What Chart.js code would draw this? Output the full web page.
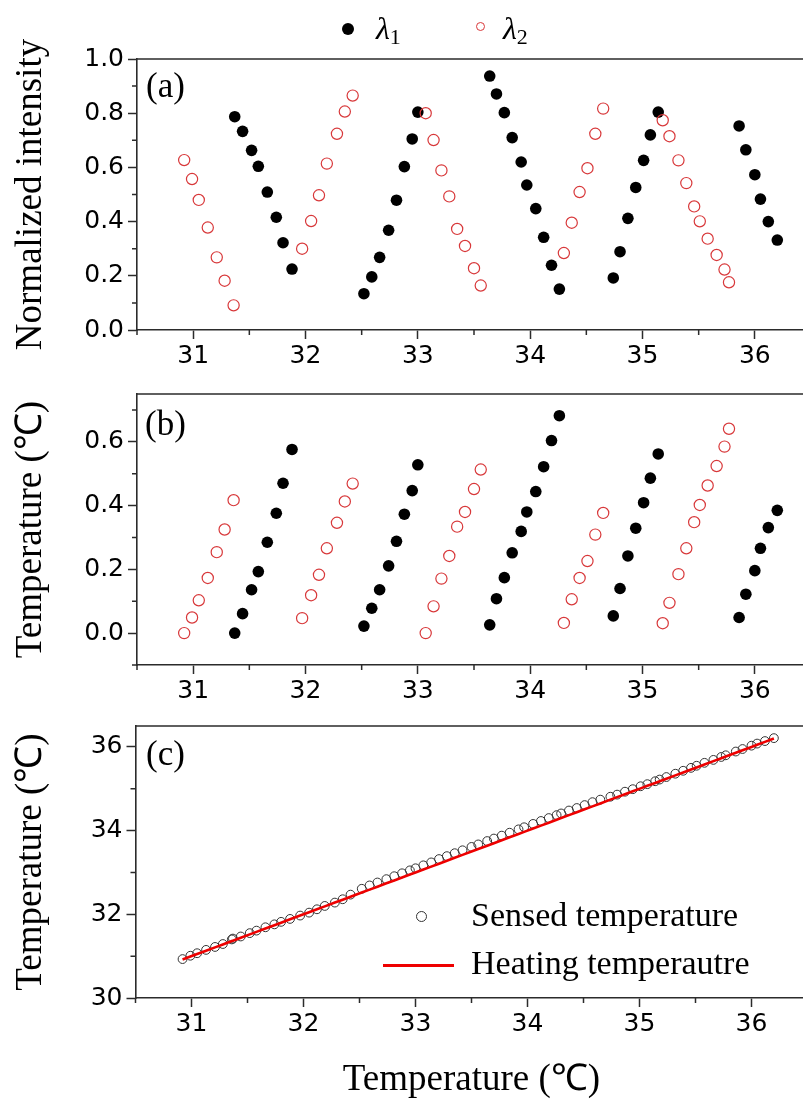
<!DOCTYPE html>
<html>
<head>
<meta charset="utf-8">
<script src="https://cdn.jsdelivr.net/npm/chart.js@4.4.1/dist/chart.umd.min.js"></script>
<style>
  html, body { margin: 0; padding: 0; background: #fff; }
  #figure { position: relative; width: 803px; height: 1105px; overflow: hidden; background: #fff; }
  .panel { position: absolute; left: 0; }
  .panel canvas { display: block; }
  .txt { position: absolute; font-family: 'Liberation Serif', 'Times New Roman', serif; color: #000; line-height: 1; white-space: nowrap; }
  .dot { position: absolute; border-radius: 50%; box-sizing: border-box; }
</style>
</head>
<body>
<div id="figure">
  <div class="panel" style="top:0px"><canvas id="chartA" width="830" height="390"></canvas></div>
  <div class="panel" style="top:360px"><canvas id="chartB" width="830" height="360"></canvas></div>
  <div class="panel" style="top:690px"><canvas id="chartC" width="830" height="415"></canvas></div>

  <!-- wavelength key above panel (a) -->
  <div class="dot" style="left:342px;top:23px;width:12px;height:12px;background:#000"></div>
  <div class="txt" style="left:376px;top:12px;font-size:32px"><i>λ</i><span style="font-size:22px;position:relative;top:5px">1</span></div>
  <div class="dot" style="left:475.5px;top:22px;width:9px;height:9px;border:1px solid #d8383a"></div>
  <div class="txt" style="left:503px;top:12px;font-size:32px"><i>λ</i><span style="font-size:22px;position:relative;top:5px">2</span></div>

  <!-- panel letters -->
  <div class="txt" style="left:146px;top:68px;font-size:35px">(a)</div>
  <div class="txt" style="left:145px;top:406px;font-size:35px">(b)</div>
  <div class="txt" style="left:146px;top:736px;font-size:35px">(c)</div>

  <!-- key inside panel (c) -->
  <div class="dot" style="left:416px;top:910.5px;width:11px;height:11px;border:1px solid #333"></div>
  <div class="txt" style="left:471px;top:898px;font-size:34px">Sensed temperature</div>
  <div style="position:absolute;left:383px;top:963.5px;width:71px;height:3px;background:#ee0000"></div>
  <div class="txt" style="left:471px;top:946px;font-size:34px">Heating temperautre</div>
</div>

<script>
// ---- λ2 (red, hollow): heating temperature (℃), normalized intensity, temperature shift (℃)
const tempL2 = [30.92, 30.99, 31.05, 31.13, 31.21, 31.28, 31.36,
                31.97, 32.05, 32.12, 32.19, 32.28, 32.35, 32.42,
                33.07, 33.14, 33.21, 33.28, 33.35, 33.42, 33.50, 33.56,
                34.30, 34.37, 34.44, 34.51, 34.58, 34.65,
                35.18, 35.24, 35.32, 35.39, 35.46, 35.51, 35.58, 35.66, 35.73, 35.77];
const intensityL2 = [0.627, 0.557, 0.480, 0.378, 0.268, 0.182, 0.091,
                     0.300, 0.402, 0.497, 0.614, 0.724, 0.806, 0.865,
                     0.800, 0.701, 0.589, 0.493, 0.373, 0.310, 0.228, 0.164,
                     0.284, 0.396, 0.509, 0.597, 0.724, 0.817,
                     0.774, 0.715, 0.626, 0.542, 0.456, 0.401, 0.337, 0.277, 0.223, 0.176];
const shiftL2 = [0.000, 0.049, 0.103, 0.173, 0.254, 0.325, 0.417,
                 0.047, 0.119, 0.183, 0.266, 0.346, 0.413, 0.469,
                 0.000, 0.084, 0.171, 0.242, 0.334, 0.380, 0.452, 0.513,
                 0.032, 0.106, 0.173, 0.226, 0.309, 0.377,
                 0.031, 0.095, 0.185, 0.266, 0.348, 0.402, 0.463, 0.524, 0.585, 0.641];

// ---- λ1 (black, filled)
const tempL1 = [31.37, 31.44, 31.52, 31.58, 31.66, 31.74, 31.80, 31.88,
                32.52, 32.59, 32.66, 32.74, 32.81, 32.88, 32.95, 33.00,
                33.64, 33.70, 33.77, 33.84, 33.92, 33.97, 34.05, 34.12, 34.19, 34.26,
                34.74, 34.80, 34.87, 34.94, 35.01, 35.07, 35.14,
                35.86, 35.92, 36.00, 36.05, 36.12, 36.20];
const intensityL1 = [0.787, 0.733, 0.663, 0.604, 0.509, 0.416, 0.322, 0.225,
                     0.134, 0.196, 0.268, 0.368, 0.479, 0.603, 0.705, 0.804,
                     0.937, 0.871, 0.802, 0.710, 0.620, 0.535, 0.448, 0.342, 0.239, 0.151,
                     0.192, 0.289, 0.412, 0.526, 0.626, 0.720, 0.804,
                     0.753, 0.665, 0.573, 0.483, 0.400, 0.332];
const shiftL1 = [0.000, 0.061, 0.136, 0.193, 0.285, 0.376, 0.470, 0.576,
                 0.022, 0.078, 0.136, 0.211, 0.288, 0.373, 0.447, 0.528,
                 0.026, 0.108, 0.174, 0.252, 0.319, 0.380, 0.444, 0.522, 0.604, 0.682,
                 0.054, 0.140, 0.242, 0.329, 0.409, 0.486, 0.562,
                 0.049, 0.122, 0.196, 0.266, 0.331, 0.385];

// ---- panel (c): applied heating temperature vs. sensed temperature (℃)
const heatingTemp = [30.92, 30.99, 31.05, 31.13, 31.21, 31.28, 31.36, 31.37, 31.44, 31.52,
                     31.58, 31.66, 31.74, 31.80, 31.88, 31.97, 32.05, 32.12, 32.19, 32.28,
                     32.35, 32.42, 32.52, 32.59, 32.66, 32.74, 32.81, 32.88, 32.95, 33.00,
                     33.07, 33.14, 33.21, 33.28, 33.35, 33.42, 33.50, 33.56, 33.64, 33.70,
                     33.77, 33.84, 33.92, 33.97, 34.05, 34.12, 34.19, 34.26, 34.30, 34.37,
                     34.44, 34.51, 34.58, 34.65, 34.74, 34.80, 34.87, 34.94, 35.01, 35.07,
                     35.14, 35.18, 35.24, 35.32, 35.39, 35.46, 35.51, 35.58, 35.66, 35.73,
                     35.77, 35.86, 35.92, 36.00, 36.05, 36.12, 36.20];
const sensedTemp = [30.93, 31.01, 31.07, 31.15, 31.22, 31.29, 31.40, 31.42, 31.47, 31.55,
                    31.61, 31.69, 31.76, 31.82, 31.89, 31.97, 32.04, 32.12, 32.20, 32.28,
                    32.36, 32.47, 32.61, 32.69, 32.76, 32.84, 32.91, 32.98, 33.05, 33.10,
                    33.17, 33.24, 33.32, 33.39, 33.46, 33.53, 33.61, 33.67, 33.75, 33.81,
                    33.88, 33.95, 34.03, 34.08, 34.16, 34.23, 34.30, 34.37, 34.41, 34.48,
                    34.54, 34.61, 34.68, 34.74, 34.81, 34.86, 34.93, 34.99, 35.06, 35.11,
                    35.18, 35.22, 35.28, 35.36, 35.43, 35.50, 35.55, 35.62, 35.69, 35.76,
                    35.80, 35.89, 35.95, 36.03, 36.08, 36.14, 36.21];

// ---- tick positions
const xTicks = [31, 32, 33, 34, 35, 36];
const xMinor = [30.5, 31.5, 32.5, 33.5, 34.5, 35.5];
const yTicksA = [0, 0.2, 0.4, 0.6, 0.8, 1.0];
const yMinorA = [0.1, 0.3, 0.5, 0.7, 0.9];
const yTicksB = [0, 0.2, 0.4, 0.6];
const yMinorB = [-0.1, 0.1, 0.3, 0.5, 0.7];
const yTicksC = [30, 32, 34, 36];
const yMinorC = [31, 33, 35];

const SANS = "'DejaVu Sans', sans-serif";
const SERIF = "'Liberation Serif', 'Times New Roman', serif";
const AXIS = '#2b2b2b';
const RED = '#d8383a';

const pairs = (xs, ys) => xs.map((x, i) => ({ x, y: ys[i] }));

// short minor ticks plus the top/right frame of the plot box
const frameAndMinor = {
  id: 'frameAndMinor',
  afterDraw(chart, args, opts) {
    const { ctx, chartArea: a } = chart;
    const xs = chart.scales.x, ys = chart.scales.y;
    ctx.save();
    ctx.strokeStyle = AXIS;
    ctx.lineWidth = 1.5;
    ctx.beginPath();
    (opts.x || []).forEach(v => { const p = xs.getPixelForValue(v); ctx.moveTo(p, a.bottom); ctx.lineTo(p, a.bottom + 5); });
    (opts.y || []).forEach(v => { const p = ys.getPixelForValue(v); ctx.moveTo(a.left, p); ctx.lineTo(a.left - 5, p); });
    ctx.stroke();
    ctx.lineWidth = 1.6;
    ctx.beginPath();
    ctx.moveTo(a.left, a.top); ctx.lineTo(a.right, a.top); ctx.lineTo(a.right, a.bottom);
    ctx.stroke();
    ctx.restore();
  }
};

function makeOptions(p) {
  return {
    responsive: false,
    animation: false,
    devicePixelRatio: 1,
    events: [],
    layout: { padding: { top: p.padTop, right: p.padRight, bottom: 0, left: 0 } },
    plugins: {
      legend: { display: false },
      tooltip: { enabled: false },
      frameAndMinor: { x: xMinor, y: p.yMinor }
    },
    scales: {
      x: {
        type: 'linear', min: 30.5, max: 36.5,
        afterBuildTicks: s => { s.ticks = xTicks.map(v => ({ value: v })); },
        afterFit: s => { s.height = p.xHeight; },
        ticks: { color: '#000', font: { family: SANS, size: 25 }, padding: 2, maxRotation: 0, autoSkip: false,
                 callback: v => String(v) },
        grid: { drawOnChartArea: false, drawTicks: true, tickLength: 9, tickWidth: 1.5, tickColor: AXIS, color: AXIS },
        border: { display: true, color: AXIS, width: 1.6 },
        title: p.xTitle ? { display: true, text: 'Temperature (℃)', color: '#000',
                            font: { family: SERIF, size: 37 }, padding: { top: 0, bottom: 3 } } : { display: false }
      },
      y: {
        type: 'linear', min: p.yMin, max: p.yMax,
        afterBuildTicks: s => { s.ticks = p.yTicks.map(v => ({ value: v })); },
        afterFit: s => { s.width = p.yWidth; },
        ticks: { color: '#000', font: { family: SANS, size: 25 }, padding: 4, autoSkip: false,
                 callback: p.yFmt },
        grid: { drawOnChartArea: false, drawTicks: true, tickLength: 9, tickWidth: 1.5, tickColor: AXIS, color: AXIS },
        border: { display: true, color: AXIS, width: 1.6 },
        title: { display: true, text: p.yTitle, color: '#000',
                 font: { family: SERIF, size: 37 }, padding: { top: 9, bottom: 0 } }
      }
    }
  };
}

const filled = { pointRadius: 5.8, pointBackgroundColor: '#000', pointBorderWidth: 0, borderColor: '#000', showLine: false };
const hollowRed = { pointRadius: 5.6, pointBackgroundColor: 'rgba(0,0,0,0)', pointBorderColor: RED, pointBorderWidth: 1.2, borderColor: RED, showLine: false };

// (a) normalized intensity
new Chart(document.getElementById('chartA'), {
  type: 'scatter',
  data: { datasets: [
    Object.assign({ label: 'λ1', data: pairs(tempL1, intensityL1), order: 1 }, filled),
    Object.assign({ label: 'λ2', data: pairs(tempL2, intensityL2), order: 0 }, hollowRed)
  ] },
  options: makeOptions({ padTop: 59, padRight: 19, xHeight: 60, yWidth: 137,
    yMin: 0, yMax: 1.0, yTicks: yTicksA, yMinor: yMinorA, yFmt: v => v.toFixed(1),
    yTitle: 'Normalized intensity', xTitle: false }),
  plugins: [frameAndMinor]
});

// (b) temperature within each wavelength period
new Chart(document.getElementById('chartB'), {
  type: 'scatter',
  data: { datasets: [
    Object.assign({ label: 'λ1', data: pairs(tempL1, shiftL1), order: 1 }, filled),
    Object.assign({ label: 'λ2', data: pairs(tempL2, shiftL2), order: 0 }, hollowRed)
  ] },
  options: makeOptions({ padTop: 34, padRight: 19, xHeight: 55, yWidth: 137,
    yMin: -0.1, yMax: 0.75, yTicks: yTicksB, yMinor: yMinorB, yFmt: v => v.toFixed(1),
    yTitle: 'Temperature (℃)', xTitle: false }),
  plugins: [frameAndMinor]
});

// (c) sensed vs. heating temperature
new Chart(document.getElementById('chartC'), {
  type: 'scatter',
  data: { datasets: [
    { label: 'Sensed temperature', data: pairs(heatingTemp, sensedTemp), order: 1, showLine: false,
      pointRadius: 4.4, pointBackgroundColor: 'rgba(0,0,0,0)', pointBorderColor: '#333', pointBorderWidth: 1, borderColor: '#333' },
    { label: 'Heating temperautre', data: pairs(heatingTemp, heatingTemp), order: 0, showLine: true,
      pointRadius: 0, borderColor: '#ee0000', borderWidth: 2.6, fill: false, tension: 0 }
  ] },
  options: makeOptions({ padTop: 36, padRight: 22.5, xHeight: 107, yWidth: 135.5,
    yMin: 30, yMax: 36.5, yTicks: yTicksC, yMinor: yMinorC, yFmt: v => String(v),
    yTitle: 'Temperature (℃)', xTitle: true }),
  plugins: [frameAndMinor]
});
</script>
</body>
</html>
